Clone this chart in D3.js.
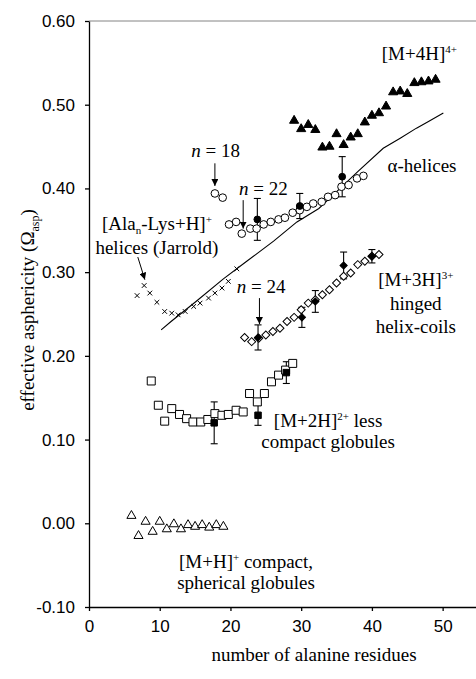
<!DOCTYPE html>
<html>
<head>
<meta charset="utf-8">
<script src="https://cdn.jsdelivr.net/npm/d3@7"></script>
<style>
body { margin: 0; background: #fff; }
.axis text { font-family: "Liberation Sans", Arial, sans-serif; font-size: 17px; fill: #000; }
.axis path, .axis line { stroke: #000; stroke-width: 1.3; }
.note { font-family: "Liberation Serif", "Times New Roman", serif; font-size: 19px; fill: #000; }
</style>
</head>
<body>
<svg id="chart" width="476" height="679"></svg>
<script>
// [M+H]+ compact globules (open triangles)
const compactN = [6, 7, 8, 9, 10, 11, 12, 13, 14, 15, 16, 17, 18, 19];
const compactOmega = [0.009, -0.015, 0.002, -0.010, 0.002, -0.007, -0.001, -0.007, -0.002, -0.004, -0.002, -0.005, -0.002, -0.004];

// [M+2H]2+ less compact globules (open squares)
const globuleN = [8.8, 9.8, 10.7, 11.7, 12.8, 13.8, 14.7, 15.8, 16.8, 17.8, 18.8, 19.7, 20.8, 21.8, 22.7, 23.8, 24.8, 25.8, 26.8, 27.8, 28.8];
const globuleOmega = [0.170, 0.141, 0.122, 0.137, 0.130, 0.125, 0.121, 0.121, 0.124, 0.131, 0.129, 0.130, 0.135, 0.133, 0.155, 0.145, 0.155, 0.169, 0.177, 0.183, 0.191];

// [M+3H]3+ hinged helix-coils (open diamonds)
const hingedN = [22, 23, 24, 25, 26, 27, 28, 29, 30, 31, 32, 33, 34, 35, 36, 37, 38, 39, 40, 41];
const hingedOmega = [0.222, 0.217, 0.221, 0.225, 0.229, 0.233, 0.241, 0.246, 0.255, 0.263, 0.267, 0.273, 0.279, 0.287, 0.295, 0.299, 0.309, 0.313, 0.319, 0.321];

// helices (open circles)
const helixN = [17.8, 18.9, 19.8, 20.8, 21.6, 22.8, 23.7, 24.7, 25.7, 26.8, 27.7, 28.8, 29.8, 30.8, 31.7, 32.9, 33.8, 34.8, 35.7, 36.7, 37.9, 38.8];
const helixOmega = [0.394, 0.389, 0.357, 0.360, 0.346, 0.352, 0.352, 0.357, 0.360, 0.363, 0.365, 0.371, 0.374, 0.378, 0.382, 0.384, 0.390, 0.392, 0.402, 0.404, 0.412, 0.415];

// [M+4H]4+ (filled triangles)
const quadN = [29, 30, 31, 32, 33, 34, 35, 36, 37, 38, 39, 40, 41, 42, 43, 44, 45, 46, 47, 48, 49];
const quadOmega = [0.481, 0.471, 0.476, 0.470, 0.449, 0.450, 0.465, 0.452, 0.461, 0.465, 0.479, 0.487, 0.490, 0.498, 0.515, 0.516, 0.513, 0.526, 0.527, 0.528, 0.530];

// [Ala_n-Lys+H]+ helices, Jarrold (crosses)
const jarroldN = [6.8, 7.8, 8.6, 9.6, 10.7, 11.7, 12.6, 13.6, 14.8, 15.7, 16.9, 17.8, 18.8, 19.7, 20.9];
const jarroldOmega = [0.272, 0.284, 0.275, 0.264, 0.253, 0.251, 0.249, 0.253, 0.259, 0.263, 0.269, 0.275, 0.281, 0.289, 0.304];

// alpha-helix model curve
const alphaN = [10.2, 11.6, 15, 19, 22.3, 26.1, 29.4, 32.5, 35.5, 38, 41.6, 44, 46.3, 48, 50.1];
const alphaOmega = [0.231, 0.241, 0.264, 0.292, 0.313, 0.337, 0.360, 0.376, 0.400, 0.420, 0.448, 0.460, 0.472, 0.480, 0.490];

// filled points with error bars
const helixErrN = [23.8, 29.8, 35.8];
const helixErrOmega = [0.363, 0.379, 0.414];
const helixErrDelta = [0.025, 0.015, 0.024];
const hingedErrN = [23.9, 30.1, 32.0, 36.0, 40.0];
const hingedErrOmega = [0.222, 0.246, 0.265, 0.308, 0.319];
const hingedErrDelta = [0.015, 0.012, 0.013, 0.016, 0.008];
const globuleErrN = [17.7, 23.9, 27.9];
const globuleErrOmega = [0.120, 0.129, 0.180];
const globuleErrDelta = [0.025, 0.012, 0.013];

const yTicks = [-0.1, 0, 0.1, 0.2, 0.3, 0.4, 0.5, 0.6];
const xTicks = [0, 10, 20, 30, 40, 50];

const svg = d3.select("#chart");
svg.append("rect").attr("width", 476).attr("height", 679).attr("fill", "#fff");

const x = d3.scaleLinear().domain([0, 55]).range([89, 478]);
const y = d3.scaleLinear().domain([-0.1, 0.6]).range([607, 21]);

const zip = (a, b) => a.map((v, i) => [v, b[i]]);

// frame top
svg.append("line")
	.attr("x1", x(0)).attr("x2", 476)
	.attr("y1", y(0.6)).attr("y2", y(0.6))
	.attr("stroke", "#666").attr("stroke-width", 0.8);

svg.append("g")
	.attr("class", "axis")
	.attr("transform", `translate(${x(0)},0)`)
	.call(d3.axisLeft(y).tickValues(yTicks).tickFormat((d) => d.toFixed(2)).tickSize(4).tickPadding(10).tickSizeOuter(0));

svg.append("g")
	.attr("class", "axis")
	.attr("transform", `translate(0,${y(-0.1)})`)
	.call(d3.axisBottom(x).tickValues(xTicks).tickSize(4).tickPadding(9).tickSizeOuter(0));

// axis titles
svg.append("text")
	.attr("class", "note")
	.attr("x", 314).attr("y", 661)
	.attr("text-anchor", "middle")
	.text("number of alanine residues");

const ylab = svg.append("text")
	.attr("class", "note")
	.attr("transform", "translate(34,310) rotate(-90)")
	.attr("text-anchor", "middle");
ylab.append("tspan").text("effective asphericity (Ω");
ylab.append("tspan").attr("font-size", 12).attr("dy", 5).text("asp");
ylab.append("tspan").attr("dy", -5).text(")");

// alpha-helix curve
svg.append("path")
	.datum(zip(alphaN, alphaOmega))
	.attr("fill", "none")
	.attr("stroke", "#000")
	.attr("stroke-width", 1.1)
	.attr("d", d3.line().x((d) => x(d[0])).y((d) => y(d[1])));

// error bars
function errorBars(ns, vals, deltas) {
	const g = svg.append("g").attr("stroke", "#000").attr("stroke-width", 1.1);
	ns.forEach((n, i) => {
		const cx = x(n);
		const top = y(vals[i] + deltas[i]);
		const bot = y(vals[i] - deltas[i]);
		g.append("line").attr("x1", cx).attr("x2", cx).attr("y1", top).attr("y2", bot);
		g.append("line").attr("x1", cx - 3.5).attr("x2", cx + 3.5).attr("y1", top).attr("y2", top);
		g.append("line").attr("x1", cx - 3.5).attr("x2", cx + 3.5).attr("y1", bot).attr("y2", bot);
	});
}
errorBars(helixErrN, helixErrOmega, helixErrDelta);
errorBars(hingedErrN, hingedErrOmega, hingedErrDelta);
errorBars(globuleErrN, globuleErrOmega, globuleErrDelta);

// generic symbol plotter
function plotSymbols(ns, vals, type, size, filled, rotate) {
	svg.append("g")
		.selectAll("path")
		.data(zip(ns, vals))
		.join("path")
		.attr("transform", (d) => `translate(${x(d[0])},${y(d[1])}) rotate(${rotate || 0})`)
		.attr("d", d3.symbol().type(type).size(size))
		.attr("fill", filled ? "#000" : "#fff")
		.attr("stroke", "#000")
		.attr("stroke-width", 1);
}

plotSymbols(compactN, compactOmega, d3.symbolTriangle, 36, false);
plotSymbols(globuleN, globuleOmega, d3.symbolSquare, 64, false);
plotSymbols(hingedN, hingedOmega, d3.symbolSquare, 32, false, 45);
plotSymbols(helixN, helixOmega, d3.symbolCircle, 46, false);
plotSymbols(quadN, quadOmega, d3.symbolTriangle, 36, true);
plotSymbols(jarroldN, jarroldOmega, d3.symbolX, 16, false);

plotSymbols(helixErrN, helixErrOmega, d3.symbolCircle, 36, true);
plotSymbols(hingedErrN, hingedErrOmega, d3.symbolSquare, 26, true, 45);
plotSymbols(globuleErrN, globuleErrOmega, d3.symbolSquare, 42, true);

// arrows
svg.append("defs").append("marker")
	.attr("id", "head")
	.attr("viewBox", "0 0 10 10")
	.attr("refX", 10).attr("refY", 5)
	.attr("markerWidth", 7).attr("markerHeight", 7)
	.attr("markerUnits", "userSpaceOnUse")
	.attr("orient", "auto")
	.append("path").attr("d", "M0,0 L10,5 L0,10 z").attr("fill", "#000");

const arrowFrom = [[17.8, 0.430], [21.8, 0.386], [24.1, 0.269], [6.9, 0.318]];
const arrowTo = [[17.8, 0.403], [21.8, 0.352], [24.1, 0.238], [7.9, 0.291]];
arrowFrom.forEach((a, i) => {
	svg.append("line")
		.attr("x1", x(a[0])).attr("y1", y(a[1]))
		.attr("x2", x(arrowTo[i][0])).attr("y2", y(arrowTo[i][1]))
		.attr("stroke", "#000").attr("stroke-width", 1)
		.attr("marker-end", "url(#head)");
});

// annotations
function note(n, omega, anchor, parts) {
	const t = svg.append("text")
		.attr("class", "note")
		.attr("x", x(n)).attr("y", y(omega))
		.attr("text-anchor", anchor);
	let shift = 0;
	parts.forEach((p) => {
		const s = t.append("tspan").text(p.t);
		const target = p.sup ? -7 : p.sub ? 4 : 0;
		if (target !== shift) s.attr("dy", target - shift);
		shift = target;
		if (p.sup || p.sub) s.attr("font-size", 11);
		if (p.it) s.attr("font-style", "italic");
	});
}

note(41.4, 0.553, "start", [{ t: "[M+4H]" }, { t: "4+", sup: true }]);
note(42.2, 0.420, "start", [{ t: "α-helices" }]);
note(17.9, 0.438, "middle", [{ t: "n", it: true }, { t: " = 18" }]);
note(21.2, 0.392, "start", [{ t: "n", it: true }, { t: " = 22" }]);
note(20.9, 0.275, "start", [{ t: "n", it: true }, { t: " = 24" }]);
note(9.6, 0.350, "middle", [{ t: "[Ala" }, { t: "n", sub: true }, { t: "-Lys+H]" }, { t: "+", sup: true }]);
note(9.6, 0.3215, "middle", [{ t: "helices (Jarrold)" }]);
note(46.2, 0.283, "middle", [{ t: "[M+3H]" }, { t: "3+", sup: true }]);
note(46.2, 0.255, "middle", [{ t: "hinged" }]);
note(46.2, 0.227, "middle", [{ t: "helix-coils" }]);
note(33.8, 0.1155, "middle", [{ t: "[M+2H]" }, { t: "2+", sup: true }, { t: " less" }]);
note(33.8, 0.0896, "middle", [{ t: "compact globules" }]);
note(22.2, -0.054, "middle", [{ t: "[M+H]" }, { t: "+", sup: true }, { t: " compact," }]);
note(22.2, -0.079, "middle", [{ t: "spherical globules" }]);
</script>
</body>
</html>
